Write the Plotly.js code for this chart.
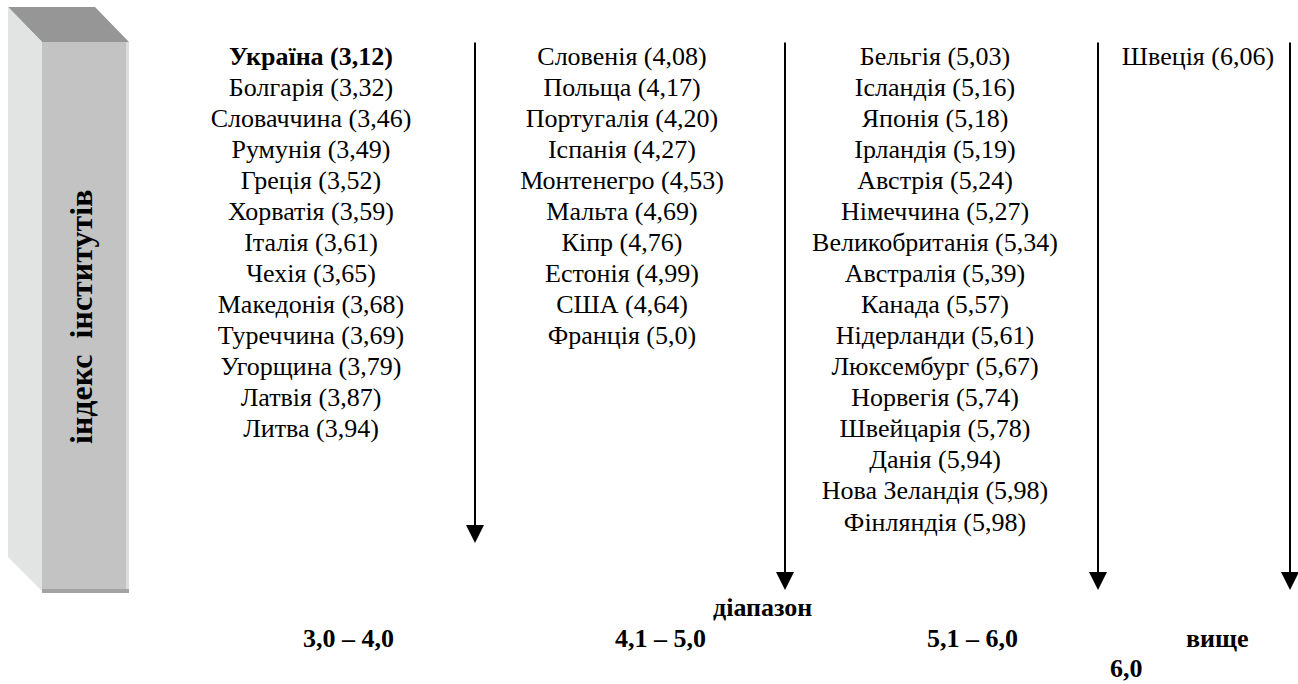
<!DOCTYPE html>
<html>
<head>
<meta charset="utf-8">
<script src="https://cdn.plot.ly/plotly-3.0.1.min.js"></script>
<style>html,body{margin:0;padding:0;background:#fff;} #chart{width:1298px;height:684px;}</style>
</head>
<body>
<div id="chart"></div>
<script>
// ---- data ----
const group1Countries = ["Україна","Болгарія","Словаччина","Румунія","Греція","Хорватія","Італія","Чехія","Македонія","Туреччина","Угорщина","Латвія","Литва"];
const group1Values = ["3,12","3,32","3,46","3,49","3,52","3,59","3,61","3,65","3,68","3,69","3,79","3,87","3,94"];
const group2Countries = ["Словенія","Польща","Португалія","Іспанія","Монтенегро","Мальта","Кіпр","Естонія","США","Франція"];
const group2Values = ["4,08","4,17","4,20","4,27","4,53","4,69","4,76","4,99","4,64","5,0"];
const group3Countries = ["Бельгія","Ісландія","Японія","Ірландія","Австрія","Німеччина","Великобританія","Австралія","Канада","Нідерланди","Люксембург","Норвегія","Швейцарія","Данія","Нова Зеландія","Фінляндія"];
const group3Values = ["5,03","5,16","5,18","5,19","5,24","5,27","5,34","5,39","5,57","5,61","5,67","5,74","5,78","5,94","5,98","5,98"];
const group4Countries = ["Швеція"];
const group4Values = ["6,06"];
const rangeLabels = ["3,0 – 4,0","4,1 – 5,0","5,1 – 6,0"];
const highlightCountry = "Україна";
const sideTitle = "індекс  інститутів";
const axisWord = "діапазон";
const aboveWord = "вище";
const aboveValue = "6,0";

// ---- layout constants ----
const SERIF = "Liberation Serif";
const FS = 26;
const colX = [311, 622, 935, 1198];
const rowY0 = 58, rowStep = 31.07;
const groups = [
  [group1Countries, group1Values],
  [group2Countries, group2Values],
  [group3Countries, group3Values],
  [group4Countries, group4Values]
];

const traces = groups.map(function (g, gi) {
  const names = g[0], vals = g[1];
  return {
    type: "scatter",
    mode: "text",
    x: names.map(function () { return colX[gi]; }),
    y: names.map(function (_, i) { return rowY0 + i * rowStep; }),
    text: names.map(function (n, i) {
      const s = n + " (" + vals[i] + ")";
      return n === highlightCountry ? "<b>" + s + "</b>" : s;
    }),
    textposition: "middle center",
    textfont: { family: SERIF, size: FS, color: "#000" },
    hoverinfo: "skip",
    showlegend: false
  };
});

// arrows: [x, top, tip]
const arrowDefs = [[475, 41, 543], [785, 41, 590], [1098, 41, 590], [1290, 41, 590]];
const annotations = arrowDefs.map(function (a) {
  return {
    x: a[0], y: a[2], ax: a[0], ay: a[1],
    xref: "x", yref: "y", axref: "x", ayref: "y",
    text: "", showarrow: true,
    arrowhead: 2, arrowsize: 1.8, arrowwidth: 2, arrowcolor: "#000",
    standoff: 0, startstandoff: 0
  };
});

const boldFont = { family: SERIF, size: FS, color: "#000" };
const rangeX = [348, 660, 972];
rangeLabels.forEach(function (t, i) {
  annotations.push({ x: rangeX[i], y: 638, xref: "x", yref: "y", text: "<b>" + t + "</b>", showarrow: false, font: boldFont, xanchor: "center", yanchor: "middle" });
});
annotations.push({ x: 762, y: 607, xref: "x", yref: "y", text: "<b>" + axisWord + "</b>", showarrow: false, font: boldFont });
annotations.push({ x: 1217, y: 638, xref: "x", yref: "y", text: "<b>" + aboveWord + "</b>", showarrow: false, font: boldFont });
annotations.push({ x: 1126, y: 668, xref: "x", yref: "y", text: "<b>" + aboveValue + "</b>", showarrow: false, font: boldFont });
annotations.push({ x: 81, y: 317, xref: "x", yref: "y", text: "<b>" + sideTitle + "</b>", showarrow: false, textangle: -90,
  font: { family: SERIF, size: 32, color: "#000" } });

// 3D box
const shapes = [
  { type: "path", xref: "x", yref: "y", path: "M8,7 L95,7 L129,42 L42,42 Z", fillcolor: "#969696", line: { width: 0 } },
  { type: "path", xref: "x", yref: "y", path: "M8,7 L42,42 L42,591 L8,557 Z", fillcolor: "#e2e3e3", line: { width: 0 } },
  { type: "rect", xref: "x", yref: "y", x0: 42, x1: 126, y0: 42, y1: 589, fillcolor: "#c3c3c3", line: { width: 0 } },
  { type: "rect", xref: "x", yref: "y", x0: 126, x1: 129, y0: 42, y1: 589, fillcolor: "#dcdcdc", line: { width: 0 } },
  { type: "rect", xref: "x", yref: "y", x0: 42, x1: 129, y0: 589, y1: 593, fillcolor: "#a3a3a3", line: { width: 0 } }
];

const layout = {
  width: 1298, height: 684,
  margin: { l: 0, r: 0, t: 0, b: 0, pad: 0 },
  paper_bgcolor: "#fff", plot_bgcolor: "#fff",
  font: { family: SERIF },
  xaxis: { range: [0, 1298], visible: false, fixedrange: true },
  yaxis: { range: [684, 0], visible: false, fixedrange: true },
  showlegend: false,
  shapes: shapes,
  annotations: annotations
};

Plotly.newPlot("chart", traces, layout, { displayModeBar: false, staticPlot: true });
</script>
</body>
</html>
